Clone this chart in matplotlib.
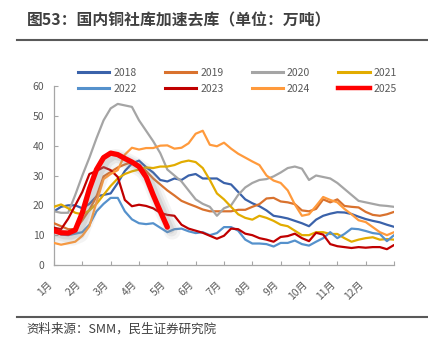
import numpy as np
import matplotlib
matplotlib.use("Agg")
import matplotlib.pyplot as plt
import matplotlib.patheffects as pe
from matplotlib.lines import Line2D

plt.rcParams['font.family'] = ['Noto Sans CJK SC', 'DejaVu Sans']

# ---------------- data (万吨), sampled every ~quarter month ----------------
month_labels = ['1月', '2月', '3月', '4月', '5月', '6月', '7月', '8月', '9月', '10月', '11月', '12月']
years = ['2018', '2019', '2020', '2021', '2022', '2023', '2024', '2025']

v2018 = [18, 19.5, 20, 20, 19, 20.5, 23, 23.5, 24, 27.5, 31.5, 34, 35, 32.8, 31, 28.5,
         28, 29, 28.5, 30, 30.5, 29, 29, 29, 27.5, 27, 24.5, 22, 20.7, 19.7, 18.3, 16.5,
         16.1, 15.6, 14.8, 14, 13, 15.2, 16.5, 17.2, 17.7, 17.6, 17.1, 16.2, 15.4, 14.8,
         14.3, 13.5, 12.8]
v2019 = [14, 13, 12, 12, 15, 18.5, 23, 29.7, 31.2, 32.7, 33.7, 34.5, 33.5, 31.5, 29, 27,
         25, 23.3, 21.5, 20.5, 19.6, 18.6, 18, 18, 18, 18, 18.5, 18.5, 19.5, 20.4, 22.3,
         22.5, 21.3, 21, 20.4, 18.3, 18, 18.8, 22, 21, 22, 19.8, 19.5, 19.3, 17.8, 16.8,
         16.5, 17, 17.8]
v2020 = [18, 17.5, 17.5, 23.5, 30, 36, 42.5, 48.5, 52.5, 54, 53.5, 53, 48.5, 45, 41.5,
         37.5, 32, 30, 28, 25, 22, 20.5, 19.5, 16.5, 19, 20, 23.5, 26, 27.5, 28.5, 28.8,
         29.7, 31, 32.5, 33, 32.3, 28.5, 30, 29.5, 29, 27.5, 25.5, 23.5, 21.5, 21, 20.5,
         20, 19.8, 19.5]
v2021 = [19.5, 20.3, 19, 17.5, 17, 18.3, 20.5, 23.5, 26.5, 29, 30.5, 31.4, 32, 32.7, 32.5,
         33, 33, 33.5, 34.5, 35, 34.5, 32.5, 28.5, 24, 22, 19.5, 17, 15.8, 15.2, 16.5, 15.8,
         14.8, 13.5, 13, 11.5, 10, 10, 11, 11, 10.4, 10.4, 9, 7.8, 8.5, 9, 9.3, 8.5, 8.7,
         8.5]
v2022 = [11.7, 10.2, 10, 10.5, 11, 13.5, 18, 20.5, 22.5, 22.5, 18, 15.3, 14, 13.7, 14,
         12.5, 11, 12, 12.2, 11.3, 10.7, 11, 10, 10.7, 12.7, 12.7, 11.5, 8.5, 7.2, 7.2, 7,
         6.2, 7.4, 7.4, 8.2, 7, 6.5, 7.8, 9, 11, 9, 10.4, 12.2, 12, 11.4, 10.7, 10.4, 8, 10]
v2023 = [12.5, 12, 15.5, 20, 24.5, 30.5, 31.5, 32.8, 31.8, 29.5, 21.8, 19.7, 20.2, 19.8,
         19, 17.5, 16.8, 16.5, 13.5, 12.2, 11.5, 10.8, 9.8, 8.8, 9.8, 12.2, 12, 10.5, 10,
         9, 8.5, 7.8, 9.4, 9.7, 10.5, 9, 8, 10.8, 10.2, 7, 6.3, 6, 5.7, 6, 5.8, 6, 6, 5.3,
         6.7]
v2024 = [7.4, 6.8, 7.3, 7.8, 9.8, 13, 21, 28.8, 30.5, 31.8, 37, 39.3, 38.7, 39.2, 39.2,
         40, 40.1, 39, 39.3, 40.8, 44, 45, 40.3, 39.8, 41, 39, 37.3, 36, 34.7, 33.5, 30,
         28.3, 27.5, 25, 20.3, 16.5, 17, 19.8, 22.8, 21.8, 21, 18.8, 17, 15, 14.4, 12.7,
         11, 10, 11]
v2025 = [11.5, 10.8, 10.7, 11.7, 17.5, 25.5, 32, 36, 37.5, 37, 35.7, 34.5, 33, 29.5,
         23.5, 18, 12.7]

series = [v2018, v2019, v2020, v2021, v2022, v2023, v2024, v2025]
colors = ['#3A62AA', '#D9722E', '#A5A5A5', '#E2AC00', '#5591CC', '#C00000', '#FF9A3C', '#FF0000']
widths = [1.6, 1.6, 1.6, 1.6, 1.6, 1.6, 1.6, 3.8]

# ---------------- figure ----------------
fig = plt.figure(figsize=(4.28, 3.5), dpi=100)
ax = fig.add_axes([54 / 428, 1 - 265 / 350, 340 / 428, 179 / 350])

shadow = [pe.SimpleLineShadow(offset=(3.5, -3), shadow_color='#909090', alpha=0.09, linewidth=12),
          pe.SimpleLineShadow(offset=(3, -2.5), shadow_color='#909090', alpha=0.13, linewidth=8.5),
          pe.SimpleLineShadow(offset=(2.5, -2), shadow_color='#909090', alpha=0.18, linewidth=5.5),
          pe.Normal()]

for i, (vals, c, w) in enumerate(zip(series, colors, widths)):
    x = np.arange(len(vals)) * 0.25
    line, = ax.plot(x, vals, color=c, lw=w, solid_joinstyle='round', solid_capstyle='round',
                    zorder=2 + i)
    if years[i] == '2025':
        line.set_path_effects(shadow)

ax.set_xlim(0, 12)
ax.set_ylim(0, 60)
ax.set_yticks(range(0, 61, 10))
ax.set_xticks(range(13))
ax.set_xticklabels(month_labels + [''], rotation=45, ha='right', va='top')

axis_col = '#A6A6A6'
text_col = '#595959'
for s in ['top', 'right']:
    ax.spines[s].set_visible(False)
for s in ['left', 'bottom']:
    ax.spines[s].set_color(axis_col)
    ax.spines[s].set_linewidth(0.9)
ax.tick_params(axis='y', direction='in', length=3, color=axis_col, labelsize=7.5,
               labelcolor=text_col, pad=7)
ax.tick_params(axis='x', direction='in', length=3, color=axis_col, labelsize=7.5,
               labelcolor=text_col, pad=10)

# legend (rows: 2018-2021, 2022-2025)
handles = [Line2D([], [], color=c, lw=(2.2 if y != '2025' else 3.2)) for c, y in zip(colors, years)]
order = [0, 4, 1, 5, 2, 6, 3, 7]
leg = fig.legend([handles[k] for k in order], [years[k] for k in order], ncol=4,
                 loc='center', bbox_to_anchor=(237.5 / 428, 1 - 81 / 350), frameon=False,
                 fontsize=7.5, handlelength=3.0, handletextpad=0.4, columnspacing=2.7,
                 labelspacing=0.6, borderpad=0)
for t in leg.get_texts():
    t.set_color(text_col)

# title, rules, source
fig.text(27 / 428, 1 - 20 / 350, '图53：国内铜社库加速去库（单位：万吨）', fontsize=11.4,
         fontweight='bold', color='#404040', ha='left', va='center')
fig.add_artist(Line2D([17 / 428, 1], [1 - 40 / 350] * 2, color='#595959', lw=1.5))
fig.add_artist(Line2D([17 / 428, 1], [1 - 316.7 / 350] * 2, color='#595959', lw=1.5))
fig.text(26 / 428, 1 - 329 / 350, '资料来源：SMM，民生证券研究院', fontsize=9,
         color='#404040', ha='left', va='center')

fig.savefig('out.png', dpi=100)
